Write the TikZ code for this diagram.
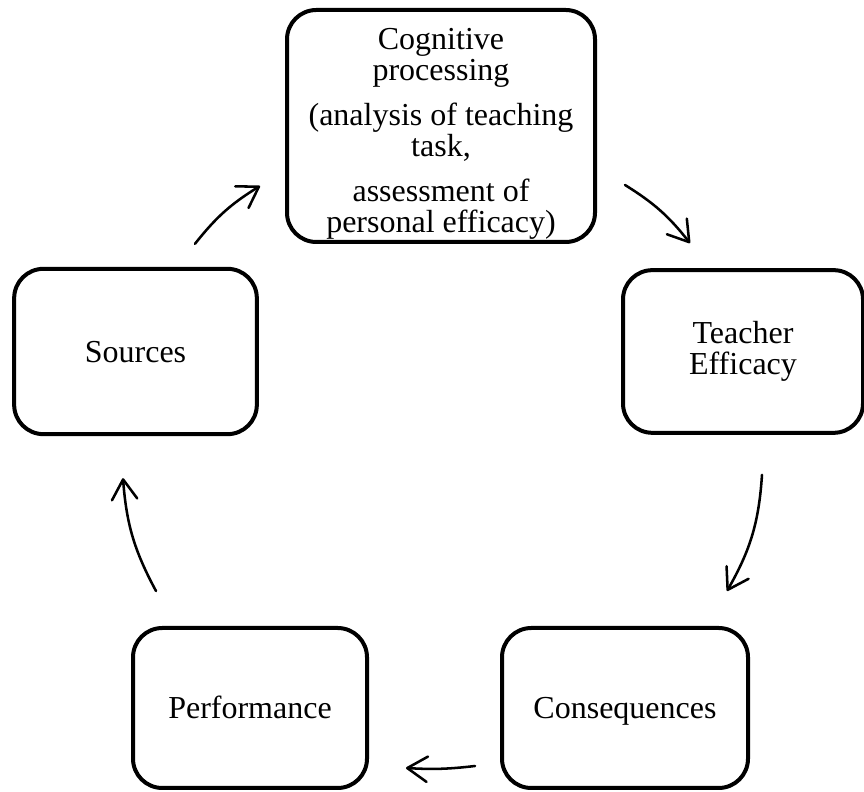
\documentclass[tikz,border=0pt]{standalone}
\usepackage{fontspec}
\setmainfont{Liberation Serif}
\usetikzlibrary{arrows.meta}

\tikzset{
  box/.style={draw, line width=3pt, rounded corners=22pt, align=center, inner sep=0pt,
    font=\fontsize{24}{23}\selectfont},
  oneline/.style={text height=20pt, text depth=4pt},
  flow/.style={line width=1.9pt, line cap=round, -{Straight Barb[length=15pt,width=19pt,round]}},
}

\begin{document}
\begin{tikzpicture}[x=0.75pt, y=0.75pt]
  \useasboundingbox (0,0) rectangle (864,792);
  \node[box, minimum width=231pt, minimum height=174pt] (cog) at (441,666) {\rule{0pt}{28pt}Cognitive\\processing\\[11pt](analysis of teaching\\task,\\[11pt]assessment of\\personal efficacy)};
  \node[box, minimum width=180pt, minimum height=122pt] (teach) at (743,440.5) {Teacher\\Efficacy};
  \node[box, oneline, minimum width=182pt, minimum height=124pt] (src) at (135.5,440.5) {Sources};
  \node[box, oneline, minimum width=175.5pt, minimum height=120pt] (perf) at (250,84) {Performance};
  \node[box, oneline, minimum width=184.5pt, minimum height=120pt] (cons) at (625,84) {Consequences};

  \draw[flow] ([shift={(59.5,23)}]src.north) to[bend left=10] ([shift={(-25,-60)}]cog.west);
  \draw[flow] ([shift={(28,-59)}]cog.east) to[bend left=10] ([shift={(-53,25)}]teach.north);
  \draw[flow] ([shift={(19,-40)}]teach.south) to[bend left=13] ([shift={(102,35)}]cons.north);
  \draw[flow] ([shift={(-25,-58)}]cons.west) to[bend left=5] ([shift={(37,-60)}]perf.east);
  \draw[flow] ([shift={(-94,35)}]perf.north) to[bend left=12] ([shift={(-12.5,-42)}]src.south);
\end{tikzpicture}
\end{document}
